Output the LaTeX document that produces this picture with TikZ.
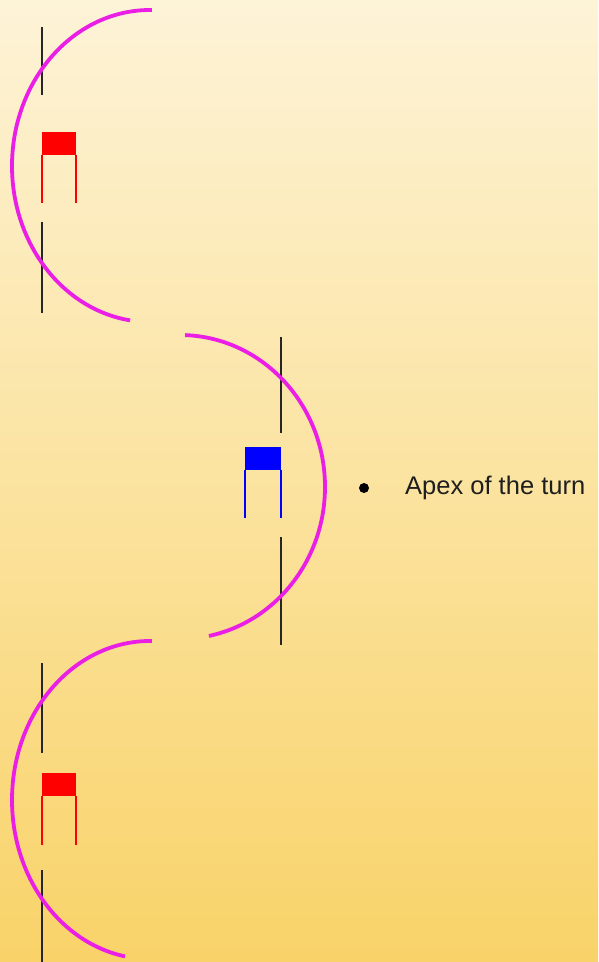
\documentclass[tikz,border=0pt]{standalone}
\usepackage{fontspec}
\setmainfont{Liberation Sans}
\definecolor{bgtop}{RGB}{253,243,215}
\definecolor{bgbot}{RGB}{249,211,105}
\definecolor{turn}{RGB}{235,30,230}
\definecolor{txt}{RGB}{30,30,30}
\tikzset{
  gateline/.style={line width=1.3pt, draw=black!85},
  turnarc/.style={line width=3.8pt, draw=turn},
  flagpole/.style={line width=1.2pt},
}
\begin{document}
\begin{tikzpicture}[x=1pt,y=1pt]
\useasboundingbox (0,0) rectangle (598,-962);
\shade[top color=bgtop, bottom color=bgbot] (0,0) rectangle (598,-962);
% gate 1 (red)
\draw[gateline] (42,-27) -- (42,-95);
\draw[gateline] (42,-222) -- (42,-313);
\fill[red] (42,-132) rectangle (76,-155);
\draw[flagpole, red] (42,-155) -- (42,-203);
\draw[flagpole, red] (76,-155) -- (76,-203);
% gate 2 (blue)
\draw[gateline] (281,-337) -- (281,-433);
\draw[gateline] (281,-537) -- (281,-645);
\fill[blue] (245,-447) rectangle (281,-470);
\draw[flagpole, blue] (245,-470) -- (245,-518);
\draw[flagpole, blue] (281,-470) -- (281,-518);
% gate 3 (red)
\draw[gateline] (42,-663) -- (42,-753);
\draw[gateline] (42,-870) -- (42,-962);
\fill[red] (42,-773) rectangle (76,-796);
\draw[flagpole, red] (42,-796) -- (42,-845);
\draw[flagpole, red] (76,-796) -- (76,-845);
% turns
\draw[turnarc] (150,-166) ++(89.2:138 and 156) arc[start angle=89.2, end angle=261.7, x radius=138, y radius=156];
\draw[turnarc] (180,-487) ++(88:145 and 152) arc[start angle=88, end angle=-78.5, x radius=145, y radius=152];
\draw[turnarc] (150,-800) ++(89.2:138 and 159) arc[start angle=89.2, end angle=259.6, x radius=138, y radius=159];
% legend
\node[circle, fill=black, inner sep=0pt, minimum size=10pt] (dot) at (364,-488) {};
\node[anchor=west, inner sep=0pt, text=txt, font=\fontsize{25.5}{30}\selectfont] (apex) at (405,-488) {Apex of the turn};
\end{tikzpicture}
\end{document}
